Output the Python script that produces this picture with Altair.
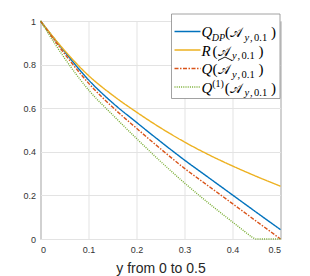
import altair as alt
import pandas as pd

# ---- data ----
x_vals = [0, 0.05, 0.1, 0.15, 0.2, 0.25, 0.3, 0.35, 0.4, 0.45, 0.5]
q_dp = [1, 0.86, 0.73, 0.625, 0.535, 0.447, 0.362, 0.282, 0.202, 0.122, 0.043]
r_val = [1, 0.865, 0.75, 0.66, 0.582, 0.51, 0.445, 0.387, 0.335, 0.287, 0.242]
q_hat = [1, 0.85, 0.715, 0.605, 0.508, 0.414, 0.324, 0.243, 0.162, 0.081, 0.0]
x_q1 = [0, 0.05, 0.1, 0.15, 0.2, 0.25, 0.3, 0.35, 0.4, 0.425, 0.44, 0.45, 0.5]
q_one = [1, 0.83, 0.684, 0.57, 0.461, 0.356, 0.257, 0.165, 0.078, 0.035, 0.01, 0.0, 0.0]

series_names = ["Q_DP", "R", "Q_hat", "Q_1"]
series_colors = ["#0072BD", "#EDB120", "#D95319", "#77AC30"]
series_dash = [[1, 0], [1, 0], [4, 1.5, 1.5, 1.5], [1, 1.2]]

x_ticks = [0, 0.1, 0.2, 0.3, 0.4, 0.5]
y_ticks = [0, 0.2, 0.4, 0.6, 0.8, 1]
x_title = "y from 0 to 0.5"

rows = []
for name, xs, ys in [("Q_DP", x_vals, q_dp), ("R", x_vals, r_val),
                     ("Q_hat", x_vals, q_hat), ("Q_1", x_q1, q_one)]:
    for xv, yv in zip(xs, ys):
        rows.append({"x": xv, "v": yv, "s": name})
df = pd.DataFrame(rows)

lines = alt.Chart(df).mark_line(strokeWidth=1.4, interpolate="monotone").encode(
    x=alt.X("x:Q", scale=alt.Scale(domain=[0, 0.5], nice=False),
            axis=alt.Axis(values=x_ticks, format="~g", title=x_title,
                          titleY=33, titleBaseline="alphabetic", labelPadding=6.5)),
    y=alt.Y("v:Q", scale=alt.Scale(domain=[0, 1], nice=False),
            axis=alt.Axis(values=y_ticks, format="~g", title=None, labelPadding=5)),
    color=alt.Color("s:N", scale=alt.Scale(domain=series_names, range=series_colors), legend=None),
    strokeDash=alt.StrokeDash("s:N", scale=alt.Scale(domain=series_names, range=series_dash), legend=None),
    order=alt.Order("x:Q"),
)

one = pd.DataFrame({"a": [0]})
SERIF = "Liberation Serif"


def txt(s, x, y, size, style="normal", font=SERIF, align="left"):
    return alt.Chart(one).mark_text(
        text=s, fontSize=size, fontStyle=style, font=font, align=align,
        baseline="alphabetic", color="#000000"
    ).encode(x=alt.value(x), y=alt.value(y))


def seg(x1, y1, x2, y2):
    return alt.Chart(one).mark_rule(color="#000000", strokeWidth=0.9).encode(
        x=alt.value(x1), y=alt.value(y1), x2=alt.value(x2), y2=alt.value(y2))


legend_bg = alt.Chart(one).mark_rect(fill="white", stroke="#8a8a8a", strokeWidth=0.8).encode(
    x=alt.value(131), x2=alt.value(239.5), y=alt.value(-7), y2=alt.value(77.5))

layers = [lines, legend_bg]
sample_y = [10.5, 29, 47.5, 66]
for i in range(4):
    layers.append(alt.Chart(one).mark_rule(
        color=series_colors[i], strokeWidth=1.4, strokeDash=series_dash[i]).encode(
        x=alt.value(134), x2=alt.value(160), y=alt.value(sample_y[i])))

SCRIPT_A = "\U0001D49C"
MF = 15
SF = 10.5
AF = 13


def sub_pieces(x0, b):
    # subscript "y,0.1" starting at x0, baseline b
    return [txt("y", x0, b + 3.5, SF, "italic"), txt(",", x0 + 5.5, b + 3.5, SF),
            txt("0.1", x0 + 9.5, b + 3.5, SF)]


# entry 1: Q_DP(A_y,0.1)
b = sample_y[0] + 5.5
layers += [txt("Q", 161, b, MF, "italic"), txt("DP", 171.2, b + 3.5, 10, "italic"),
           txt("(", 184.5, b, MF), txt(SCRIPT_A, 189.5, b, AF)]
layers += sub_pieces(204, b) + [txt(")", 230.5, b, MF)]
# entry 2: R(A_y,0.1)
b = sample_y[1] + 5.5
layers += [txt("R", 161, b, MF, "italic"), txt("(", 172, b, MF), txt(SCRIPT_A, 177, b, AF)]
layers += sub_pieces(191.5, b) + [txt(")", 218, b, MF)]
# entry 3: Q(A-hat_y,0.1)
b = sample_y[2] + 5.5
layers += [txt("Q", 161, b, MF, "italic"), txt("(", 172, b, MF), txt(SCRIPT_A, 177, b, AF),
           seg(177.5, b - 13.5, 184.5, b - 17), seg(184.5, b - 17, 191.5, b - 13.5)]
layers += sub_pieces(191.5, b) + [txt(")", 218, b, MF)]
# entry 4: Q^(1)(A_y,0.1)
b = sample_y[3] + 5.5
layers += [txt("Q", 161, b, MF, "italic"), txt("(1)", 171.7, b - 6, 10),
           txt("(", 184.3, b, MF), txt(SCRIPT_A, 189.3, b, AF)]
layers += sub_pieces(204, b) + [txt(")", 230.5, b, MF)]

chart = alt.layer(*layers).properties(
    width=240, height=218,
    autosize=alt.AutoSizeParams(type="none"),
    padding={"left": 32.5, "top": 13, "right": 21.5, "bottom": 37},
).configure_view(
    stroke="#808080", strokeWidth=1
).configure_axis(
    domain=False, ticks=False, grid=True, gridColor="#e3e3e3", gridWidth=1,
    labelFont="Liberation Sans", labelFontSize=9, labelColor="#333333",
    titleFont="Liberation Sans", titleFontSize=14,
    titleFontWeight="normal", titleColor="#262626",
)

chart.save("out.html", embed_options={"renderer": "svg", "actions": False})
